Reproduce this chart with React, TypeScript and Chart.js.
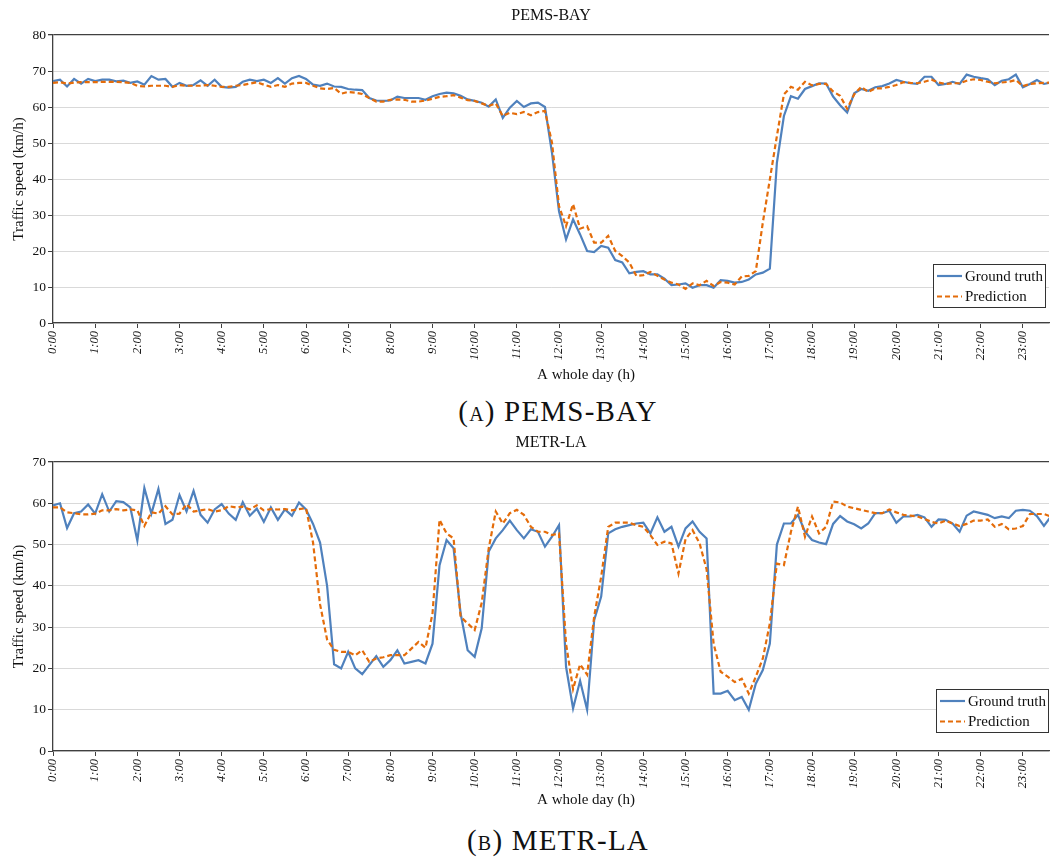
import React, { useEffect, useRef } from "react";
import { Chart, registerables } from "chart.js";

Chart.register(...registerables);

// ---------------- data ----------------
const HOUR_LABELS = [
  "0:00", "1:00", "2:00", "3:00", "4:00", "5:00", "6:00", "7:00", "8:00", "9:00", "10:00", "11:00",
  "12:00", "13:00", "14:00", "15:00", "16:00", "17:00", "18:00", "19:00", "20:00", "21:00", "22:00", "23:00",
];
const SAMPLES_PER_HOUR = 6; // one value every 10 minutes
const SERIES_NAMES = ["Ground truth", "Prediction"];
const X_TITLE = "A whole day (h)";
const Y_TITLE = "Traffic speed (km/h)";

const PEMS_TRUTH = [
  67.2, 67.6, 65.7, 67.8, 66.5, 67.8, 67.2, 67.6, 67.6, 67.1,
  67.3, 66.7, 67.1, 66.2, 68.6, 67.6, 67.8, 65.6, 66.7, 65.9,
  66.1, 67.4, 65.9, 67.6, 65.6, 65.4, 65.6, 67.0, 67.6, 67.2,
  67.6, 66.7, 68.0, 66.5, 68.0, 68.6, 67.8, 66.2, 65.9, 66.5,
  65.7, 65.6, 65.0, 64.8, 64.7, 62.5, 61.8, 61.7, 61.8, 62.9,
  62.5, 62.5, 62.5, 62.0, 63.0, 63.6, 64.0, 63.8, 63.1, 62.1,
  61.7, 61.2, 60.1, 62.1, 57.0, 59.8, 61.7, 60.0, 61.0, 61.2,
  60.0, 47.3, 31.0, 23.2, 28.8, 24.6, 20.0, 19.7, 21.4, 20.9,
  17.5, 16.8, 13.8, 14.2, 14.4, 13.5, 13.5, 12.3, 10.5, 10.7,
  11.0, 9.8, 10.5, 10.5, 9.8, 11.9, 11.7, 11.2, 11.4, 12.1,
  13.5, 14.0, 15.1, 44.5, 57.5, 63.0, 62.3, 65.0, 65.8, 66.6,
  66.5, 62.9, 60.5, 58.5, 63.8, 65.0, 64.5, 65.5, 65.8, 66.5,
  67.5, 67.0, 66.6, 66.4, 68.4, 68.4, 66.1, 66.4, 67.0, 66.4,
  69.0, 68.4, 68.0, 67.7, 66.1, 67.3, 67.7, 69.0, 65.5, 66.4,
  67.5, 66.4, 66.8,
];

const PEMS_PRED = [
  66.7, 66.9, 66.5, 66.8, 66.9, 66.9, 66.9, 67.0, 67.0, 67.0,
  66.9, 66.7, 65.9, 65.7, 65.9, 65.9, 65.9, 65.6, 66.1, 65.9,
  65.9, 65.9, 66.1, 65.9, 65.6, 65.6, 65.9, 66.1, 66.5, 66.9,
  66.2, 65.6, 66.1, 65.6, 66.5, 66.7, 66.7, 65.9, 65.2, 65.0,
  65.3, 63.7, 64.2, 64.0, 63.6, 62.5, 61.5, 61.5, 62.0, 62.1,
  62.0, 61.5, 61.5, 61.8, 62.3, 62.8, 63.0, 63.3, 62.6, 61.9,
  61.7, 61.0, 60.3, 61.0, 57.5, 58.4, 58.0, 58.6, 57.7, 58.6,
  58.9, 50.1, 32.5, 26.9, 33.0, 26.2, 26.9, 22.3, 22.3, 24.2,
  20.0, 18.6, 16.8, 13.1, 13.3, 14.2, 13.1, 12.1, 11.2, 10.7,
  9.5, 11.0, 10.5, 11.7, 10.3, 11.4, 11.2, 10.7, 12.9, 13.1,
  14.4, 27.9, 39.9, 51.9, 63.5, 65.6, 64.8, 67.0, 66.0, 66.4,
  66.4, 64.3, 63.1, 59.5, 63.5, 65.6, 64.2, 65.2, 65.2, 65.6,
  66.1, 66.9, 66.7, 66.6, 67.0, 67.6, 66.8, 66.4, 66.6, 66.6,
  67.3, 67.7, 67.5, 67.0, 66.6, 66.8, 67.0, 67.5, 65.8, 66.4,
  66.6, 66.7, 66.8,
];

const METR_TRUTH = [
  59.5, 60.0, 54.0, 57.6, 58.0, 59.7, 57.5, 62.2, 58.0, 60.5,
  60.3, 59.0, 51.0, 63.7, 57.5, 63.5, 55.0, 56.0, 62.0, 58.0,
  63.0, 57.2, 55.3, 58.5, 59.8, 57.5, 56.0, 60.3, 57.0, 58.7,
  55.5, 59.0, 56.0, 58.5, 57.0, 60.2, 58.5, 55.0, 50.5, 40.0,
  21.0, 20.0, 24.0, 20.0, 18.6, 20.8, 23.0, 20.4, 22.0, 24.4,
  21.2, 21.6, 22.0, 21.2, 26.0, 45.0, 51.1, 49.1, 33.3, 24.4,
  22.8, 29.7, 48.3, 51.5, 53.5, 55.8, 53.5, 51.5, 53.7, 53.1,
  49.5, 51.9, 54.7, 20.4, 10.3, 17.0, 10.0, 31.7, 37.4, 52.7,
  53.7, 54.3, 54.7, 55.1, 55.3, 52.7, 56.6, 53.1, 54.3, 49.5,
  53.9, 55.6, 53.1, 51.5, 13.9, 13.9, 14.6, 12.3, 13.1, 10.0,
  16.3, 19.6, 26.0, 50.0, 55.1, 55.1, 57.2, 53.1, 51.1, 50.5,
  50.1, 55.0, 56.9, 55.6, 54.9, 53.9, 55.1, 57.6, 57.6, 58.2,
  55.3, 56.8, 56.8, 57.2, 56.6, 54.3, 56.1, 56.0, 55.1, 53.1,
  57.0, 58.0, 57.6, 57.2, 56.4, 56.8, 56.4, 58.2, 58.4, 58.2,
  56.9, 54.5, 56.8,
];

const METR_PRED = [
  59.0, 59.0, 57.8, 57.6, 57.3, 57.3, 57.5, 58.3, 58.3, 58.6,
  58.3, 58.5, 58.3, 54.5, 57.8, 57.5, 59.3, 57.3, 57.5, 59.8,
  58.0, 58.3, 58.6, 58.0, 58.3, 59.3, 59.0, 59.2, 58.5, 59.5,
  58.3, 58.6, 58.5, 58.6, 58.3, 58.6, 58.8, 50.5, 35.5, 27.0,
  24.5, 24.0, 24.0, 23.2, 24.4, 21.6, 22.4, 22.7, 23.2, 23.2,
  23.2, 24.8, 26.4, 25.0, 33.3, 56.0, 52.7, 51.5, 32.5, 30.9,
  29.3, 35.9, 49.1, 58.0, 55.1, 57.6, 58.4, 57.2, 54.3, 53.1,
  53.1, 52.3, 52.7, 26.0, 15.0, 21.0, 18.5, 32.5, 42.2, 54.3,
  55.3, 55.3, 55.3, 54.7, 54.3, 52.3, 49.9, 50.7, 50.3, 43.0,
  51.3, 53.5, 50.3, 44.0, 26.0, 19.2, 18.0, 16.7, 17.5, 13.9,
  18.0, 22.4, 30.9, 45.4, 45.0, 53.1, 59.2, 51.9, 56.8, 52.7,
  54.3, 60.4, 60.2, 59.2, 58.8, 58.4, 58.0, 57.6, 57.6, 58.5,
  57.8, 57.2, 57.0, 56.8, 56.2, 55.5, 55.1, 55.8, 55.1, 54.5,
  55.0, 55.8, 55.8, 56.1, 54.3, 55.0, 53.7, 53.9, 54.5, 57.4,
  57.4, 57.4, 56.8,
];

// ---------------- styling ----------------
const FONT = '"Liberation Serif", "Times New Roman", serif';
const BLUE = "#4F81BD";
const ORANGE = "#E46C0A";
const AXIS = "#404040";
const GRID = "#D9D9D9";

const boxLegend = {
  id: "boxLegend",
  afterDatasetsDraw(chart: any, _args: any, opts: any) {
    const { ctx, chartArea } = chart;
    const w = 112;
    const h = 43;
    const x = Math.round(chartArea.right - opts.right - w);
    const y = Math.round(chartArea.bottom - opts.bottom - h);
    ctx.save();
    ctx.fillStyle = "#fff";
    ctx.fillRect(x, y, w, h);
    ctx.strokeStyle = "#333";
    ctx.lineWidth = 1;
    ctx.strokeRect(x + 0.5, y + 0.5, w, h);
    const items = [...chart.data.datasets].sort((a: any, b: any) => a.legendIndex - b.legendIndex);
    items.forEach((ds: any, i: number) => {
      const cy = y + 12 + i * 20.5;
      ctx.beginPath();
      ctx.setLineDash(ds.borderDash || []);
      ctx.strokeStyle = ds.borderColor;
      ctx.lineWidth = ds.borderWidth;
      ctx.moveTo(x + 4, cy);
      ctx.lineTo(x + 29, cy);
      ctx.stroke();
      ctx.setLineDash([]);
      ctx.fillStyle = "#111";
      ctx.font = `15px ${FONT}`;
      ctx.textBaseline = "middle";
      ctx.textAlign = "left";
      ctx.fillText(ds.label, x + 32, cy + 1);
    });
    ctx.restore();
  },
};

const xAxisTitle = {
  id: "xAxisTitle",
  afterDraw(chart: any, _args: any, opts: any) {
    const { ctx, chartArea } = chart;
    ctx.save();
    ctx.font = `15px ${FONT}`;
    ctx.fillStyle = "#111";
    ctx.textAlign = "center";
    ctx.textBaseline = "middle";
    ctx.fillText(opts.text, (chartArea.left + chartArea.right) / 2 + opts.shift, chart.height - opts.fromBottom);
    ctx.restore();
  },
};

type PanelProps = {
  title: string;
  truth: number[];
  pred: number[];
  yMax: number;
  height: number;
  xAxisHeight: number;
  legendRight: number;
  legendBottom: number;
};

function Panel({ title, truth, pred, yMax, height, xAxisHeight, legendRight, legendBottom }: PanelProps) {
  const ref = useRef<HTMLCanvasElement | null>(null);

  useEffect(() => {
    if (!ref.current) return;
    const toPoints = (arr: number[]) => arr.map((v, i) => ({ x: i / SAMPLES_PER_HOUR, y: v }));
    const xMax = 23.62;
    const chart = new Chart(ref.current, {
      type: "line",
      data: {
        datasets: [
          {
            label: SERIES_NAMES[0],
            data: toPoints(truth),
            borderColor: BLUE,
            backgroundColor: BLUE,
            borderWidth: 2.2,
            pointRadius: 0,
            tension: 0,
            order: 1,
            legendIndex: 0,
          } as any,
          {
            label: SERIES_NAMES[1],
            data: toPoints(pred),
            borderColor: ORANGE,
            backgroundColor: ORANGE,
            borderWidth: 2.2,
            borderDash: [5, 3],
            pointRadius: 0,
            tension: 0,
            order: 0,
            legendIndex: 1,
          } as any,
        ],
      },
      options: {
        responsive: false,
        animation: false,
        events: [],
        layout: { padding: { left: 0, right: 1, top: 0, bottom: 0 } },
        plugins: {
          legend: { display: false },
          tooltip: { enabled: false },
          title: {
            display: true,
            fullSize: false,
            text: title,
            color: "#111",
            font: { family: FONT, size: 16, weight: "normal", lineHeight: 1.125 },
            padding: { top: 7, bottom: 10 },
          },
          boxLegend: { right: legendRight, bottom: legendBottom },
          xAxisTitle: { text: X_TITLE, shift: 35, fromBottom: 15 },
        } as any,
        scales: {
          x: {
            type: "linear",
            min: 0,
            max: xMax,
            afterBuildTicks: (scale: any) => {
              scale.ticks = HOUR_LABELS.map((_, i) => ({ value: i }));
            },
            afterFit: (scale: any) => {
              scale.height = xAxisHeight;
              scale.paddingLeft = 0;
              scale.paddingRight = 0;
            },
            ticks: {
              autoSkip: false,
              minRotation: 90,
              maxRotation: 90,
              padding: 3,
              color: "#111",
              font: { family: FONT, size: 12.5, style: "italic" },
              callback: (_v: any, i: number) => HOUR_LABELS[i],
            },
            grid: {
              drawOnChartArea: false,
              drawTicks: true,
              tickLength: 5,
              tickColor: AXIS,
              color: AXIS,
            },
            border: { display: true, color: AXIS, width: 1.3 },
            title: { display: false },
          },
          y: {
            type: "linear",
            min: 0,
            max: yMax,
            afterFit: (scale: any) => {
              scale.width = 53;
              scale.paddingTop = 0;
              scale.paddingBottom = 0;
            },
            ticks: {
              stepSize: 10,
              padding: 2,
              color: "#111",
              font: { family: FONT, size: 13.5 },
            },
            grid: {
              drawTicks: true,
              tickLength: 5,
              tickColor: AXIS,
              lineWidth: (ctx: any) => (ctx.tick && ctx.tick.value === yMax ? 1.3 : 1),
              color: (ctx: any) => (ctx.tick && ctx.tick.value === yMax ? AXIS : GRID),
            },
            border: { display: true, color: AXIS, width: 1.3 },
            title: {
              display: true,
              text: Y_TITLE,
              color: "#111",
              font: { family: FONT, size: 15 },
              padding: { top: 10, bottom: 0 },
            },
          },
        },
      },
      plugins: [boxLegend as any, xAxisTitle as any],
    });
    return () => chart.destroy();
  }, [title, truth, pred, yMax, height, xAxisHeight, legendRight, legendBottom]);

  return <canvas ref={ref} width={1050} height={height} style={{ display: "block", width: 1050, height }} />;
}

const captionStyle: React.CSSProperties = {
  position: "absolute",
  left: 0,
  width: 1116,
  textAlign: "center",
  fontFamily: FONT,
  fontSize: 29,
  letterSpacing: 1.2,
  lineHeight: "30px",
  color: "#111",
  whiteSpace: "nowrap",
};

export default function App() {
  return (
    <div style={{ position: "absolute", left: 0, top: 0, width: 1050, height: 858, background: "#fff", overflow: "hidden" }}>
      <div style={{ position: "absolute", left: 0, top: 0 }}>
        <Panel title="PEMS-BAY" truth={PEMS_TRUTH} pred={PEMS_PRED} yMax={80} height={390} xAxisHeight={67} legendRight={4} legendBottom={16} />
      </div>
      <div style={{ ...captionStyle, top: 396 }}>
        (<span style={{ fontVariant: "small-caps" }}>a</span>) PEMS-BAY
      </div>
      <div style={{ position: "absolute", left: 0, top: 427 }}>
        <Panel title="METR-LA" truth={METR_TRUTH} pred={METR_PRED} yMax={70} height={388} xAxisHeight={64} legendRight={1} legendBottom={19} />
      </div>
      <div style={{ ...captionStyle, top: 825 }}>
        (<span style={{ fontVariant: "small-caps" }}>b</span>) METR-LA
      </div>
    </div>
  );
}
